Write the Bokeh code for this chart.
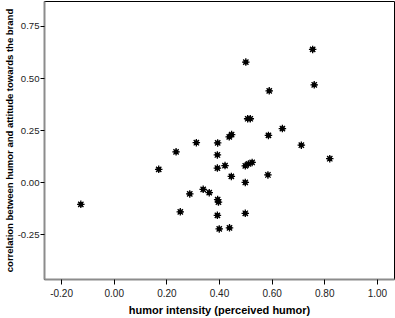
from bokeh.plotting import figure
from bokeh.models import FixedTicker, PrintfTickFormatter, Range1d
from bokeh.embed import file_html
from bokeh.resources import INLINE

humor_intensity = [-0.127, 0.169, 0.235, 0.251, 0.287, 0.312, 0.338, 0.361,
                   0.393, 0.392, 0.392, 0.421, 0.393, 0.396, 0.392, 0.399,
                   0.438, 0.437, 0.446, 0.445, 0.498, 0.510, 0.524, 0.498,
                   0.498, 0.500, 0.507, 0.517, 0.586, 0.584, 0.589, 0.639,
                   0.711, 0.754, 0.760, 0.819]
correlation = [-0.104, 0.064, 0.148, -0.140, -0.054, 0.192, -0.032, -0.048,
               0.191, 0.133, 0.070, 0.082, -0.081, -0.093, -0.157, -0.222,
               -0.217, 0.220, 0.231, 0.030, 0.081, 0.090, 0.097, 0.001,
               -0.147, 0.579, 0.307, 0.307, 0.227, 0.037, 0.441, 0.260,
               0.180, 0.640, 0.470, 0.115]
x_ticks = [-0.2, 0.0, 0.2, 0.4, 0.6, 0.8, 1.0]
y_ticks = [-0.25, 0.0, 0.25, 0.5, 0.75]

p = figure(width=395, height=318, output_backend="svg", toolbar_location=None,
           x_range=Range1d(-0.265, 1.065), y_range=Range1d(-0.465, 0.87),
           min_border_left=43, min_border_right=1, min_border_top=1,
           min_border_bottom=36)
p.background_fill_color = "white"
p.border_fill_color = "white"
p.outline_line_color = "black"
p.outline_line_width = 1
p.grid.visible = False

p.scatter(humor_intensity, correlation, marker="asterisk", size=7.5,
          line_color="black", line_width=1.3)
p.scatter(humor_intensity, correlation, marker="circle", size=4,
          fill_color="black", line_color="black")

p.xaxis.ticker = FixedTicker(ticks=x_ticks)
p.yaxis.ticker = FixedTicker(ticks=y_ticks)
p.xaxis.formatter = PrintfTickFormatter(format="%.2f")
p.yaxis.formatter = PrintfTickFormatter(format="%.2f")
p.xaxis.axis_label = "humor intensity (perceived humor)"
p.yaxis.axis_label = "correlation between humor and attitude towards the brand"

for ax in (p.xaxis, p.yaxis):
    ax.axis_line_color = "#8c8c8c"
    ax.axis_line_width = 2
    ax.major_tick_line_color = "black"
    ax.major_tick_in = 0
    ax.major_tick_out = 5
    ax.minor_tick_line_color = None
    ax.major_label_text_font = "Liberation Sans"
    ax.major_label_text_font_size = "10px"
    ax.major_label_text_color = "#222222"
    ax.axis_label_text_font = "Liberation Sans"
    ax.axis_label_text_font_style = "bold"
    ax.axis_label_text_color = "black"

p.xaxis.major_label_standoff = 4
p.xaxis.axis_label_standoff = 4
p.xaxis.axis_label_text_font_size = "11px"
p.yaxis.major_tick_out = 4
p.yaxis.major_label_standoff = 1
p.yaxis.axis_label_standoff = 0
p.yaxis.major_label_text_font_size = "9.6px"
p.yaxis.axis_label_text_font_size = "9.5px"

open("out.html", "w").write(file_html(p, INLINE))
